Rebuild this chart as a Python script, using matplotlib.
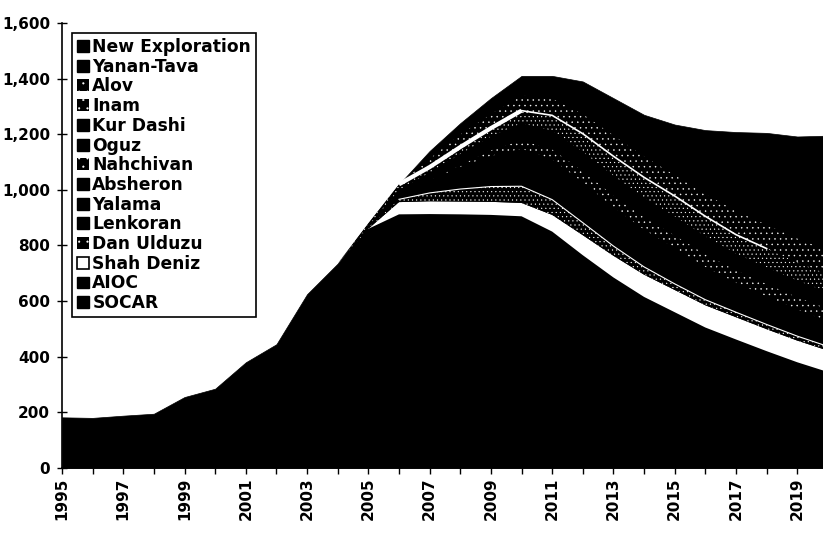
import numpy as np
import matplotlib.pyplot as plt
from matplotlib.patches import Patch
from matplotlib.ticker import FixedLocator, FuncFormatter

plt.rcParams['font.family'] = ['DejaVu Sans']
plt.rcParams['font.weight'] = 'bold'
plt.rcParams['hatch.color'] = 'white'
plt.rcParams['hatch.linewidth'] = 0.3

years = list(range(1995, 2021))

# layers, bottom to top
socar = [182, 180, 178, 175, 172, 170, 168, 165, 160, 155, 150, 145, 140,
         135, 130, 125, 120, 115, 110, 105, 100, 95, 90, 85, 80, 75]
aioc = [0, 0, 10, 20, 83, 115, 212, 280, 465, 580, 710, 767, 773,
        777, 780, 780, 730, 650, 575, 510, 460, 410, 372, 335, 300, 270]
shah_deniz = [0, 0, 0, 0, 0, 0, 0, 0, 0, 0, 0, 44, 46,
              46, 47, 48, 60, 72, 78, 80, 80, 80, 80, 79, 78, 77]
dan_ulduzu = [0, 0, 0, 0, 0, 0, 0, 0, 0, 0, 5, 10, 30,
              45, 55, 60, 55, 45, 35, 28, 22, 20, 18, 17, 16, 15]
lenkoran = [0, 0, 0, 0, 0, 0, 0, 0, 0, 0, 5, 15, 25,
            35, 45, 50, 50, 48, 45, 42, 40, 36, 32, 30, 28, 26]
yalama = [0, 0, 0, 0, 0, 0, 0, 0, 0, 0, 0, 0, 10,
          25, 35, 45, 50, 50, 48, 46, 44, 40, 36, 34, 32, 30]
absheron = [0, 0, 0, 0, 0, 0, 0, 0, 0, 0, 0, 0, 8,
            20, 30, 40, 45, 47, 47, 46, 45, 42, 38, 37, 36, 35]
nahchivan = [0, 0, 0, 0, 0, 0, 0, 0, 0, 0, 0, 0, 0,
             5, 20, 30, 35, 40, 42, 44, 45, 45, 44, 44, 44, 44]
oguz = [0, 0, 0, 0, 0, 0, 0, 0, 0, 0, 0, 10, 15,
        20, 25, 30, 32, 33, 33, 33, 32, 30, 28, 28, 27, 27]
kur_dashi = [0, 0, 0, 0, 0, 0, 0, 0, 0, 0, 0, 9, 15,
             21, 25, 32, 36, 37, 38, 38, 37, 35, 33, 33, 33, 33]
inam = [0, 0, 0, 0, 0, 0, 0, 0, 0, 0, 10, 20, 20,
        25, 30, 45, 55, 65, 70, 73, 73, 72, 68, 67, 66, 65]
alov = [0, 0, 0, 0, 0, 0, 0, 0, 0, 0, 0, 0, 30,
        45, 50, 55, 60, 70, 75, 75, 75, 80, 85, 85, 85, 85]
yanan_tava = [0, 0, 0, 0, 0, 0, 0, 0, 0, 0, 0, 0, 28,
              41, 58, 60, 62, 68, 70, 70, 72, 75, 75, 75, 75, 75]
new_exploration = [0, 0, 0, 0, 0, 0, 0, 0, 0, 0, 0, 0, 0,
                   0, 0, 10, 20, 50, 64, 80, 110, 155, 209, 256, 292, 338]

names = ['SOCAR', 'AIOC', 'Shah Deniz', 'Dan Ulduzu', 'Lenkoran', 'Yalama',
         'Absheron', 'Nahchivan', 'Oguz', 'Kur Dashi', 'Inam', 'Alov',
         'Yanan-Tava', 'New Exploration']
series = [socar, aioc, shah_deniz, dan_ulduzu, lenkoran, yalama, absheron,
          nahchivan, oguz, kur_dashi, inam, alov, yanan_tava, new_exploration]
hatches = {'Dan Ulduzu': '....', 'Nahchivan': '...', 'Inam': '....', 'Alov': '...'}

fig = plt.figure(figsize=(8.23, 5.36), dpi=100)
ax = fig.add_axes([0.0753, 0.127, 0.9247, 0.830])

x = np.array(years)
total = np.sum(np.array(series), axis=0)
# black underlay so the seams between black layers do not show
ax.fill_between(x, 0, total, facecolor='black', edgecolor='black', linewidth=0.5)

bottom = np.zeros(len(years))
tops = {}
handles = []
for name, vals in zip(names, series):
    top = bottom + np.array(vals)
    if name == 'Shah Deniz':
        ax.fill_between(x, bottom, top, facecolor='white', linewidth=0)
        handles.append(Patch(facecolor='white', edgecolor='black', linewidth=1.2, label=name))
    elif name in hatches:
        ax.fill_between(x, bottom, top, facecolor='black', edgecolor='white',
                        hatch=hatches[name], linewidth=0)
        handles.append(Patch(facecolor='black', edgecolor='white', hatch='..',
                             linewidth=0, label=name))
    else:
        handles.append(Patch(facecolor='black', edgecolor='black', label=name))
    tops[name] = top
    bottom = top

# thin white seams seen between some of the layers
du_top = np.where(x >= 2006, tops['Dan Ulduzu'], np.nan)
ax.plot(x, du_top, color='white', lw=0.8)
inam_early = np.where((x >= 2006) & (x <= 2010), tops['Inam'], np.nan)
ax.plot(x, inam_early, color='white', lw=3, solid_capstyle='butt')
inam_late = np.where((x >= 2010) & (x <= 2018), tops['Inam'], np.nan)
ax.plot(x, inam_late, color='white', lw=1.2)

ax.set_xlim(1995, 2019.84)
ax.set_ylim(0, 1600)
ax.yaxis.set_major_locator(FixedLocator(range(0, 1601, 200)))
ax.yaxis.set_major_formatter(FuncFormatter(lambda v, p: f'{v:,.0f}'))
ax.xaxis.set_major_locator(FixedLocator(range(1995, 2021, 2)))
ax.xaxis.set_minor_locator(FixedLocator(range(1996, 2021, 2)))
ax.tick_params(axis='y', direction='inout', length=7, width=1, pad=5, labelsize=11)
ax.tick_params(axis='x', which='both', direction='out', length=4, width=1, pad=3,
               labelsize=11, labelrotation=90)
for s in ['top', 'right']:
    ax.spines[s].set_visible(False)
ax.spines['left'].set_linewidth(1.2)
ax.spines['bottom'].set_linewidth(1.2)

leg = ax.legend(handles=handles[::-1], loc='upper left', bbox_to_anchor=(0.013, 0.978),
                borderaxespad=0, fancybox=False, edgecolor='black', framealpha=1,
                fontsize=12.3, handlelength=0.7, handleheight=0.7, handletextpad=0.2,
                labelspacing=0.1, borderpad=0.3)
leg.get_frame().set_linewidth(1.2)

fig.savefig('out.png', dpi=100)
